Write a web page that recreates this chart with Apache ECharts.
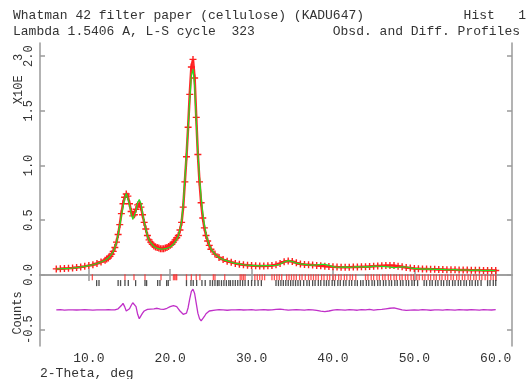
<!DOCTYPE html>
<html>
<head>
<meta charset="utf-8">
<script src="https://cdn.jsdelivr.net/npm/echarts@6/dist/echarts.min.js"></script>
<style>
  html, body { margin: 0; padding: 0; background: #fff; }
  #chart { width: 528px; height: 379px; }
</style>
</head>
<body>
<div id="chart"></div>
<script>
// 2-theta grid (deg)
var twoTheta = [
    6, 6.5, 7, 7.5, 8, 8.5, 9, 9.5, 10, 10.5, 11, 11.5, 12,
    12.2, 12.4, 12.6, 12.8, 13, 13.2, 13.4, 13.6, 13.8, 14,
    14.2, 14.4, 14.6, 14.8, 15, 15.2, 15.4, 15.6, 15.8, 16,
    16.2, 16.4, 16.6, 16.8, 17, 17.2, 17.4, 17.6, 17.8, 18,
    18.2, 18.4, 18.6, 18.8, 19, 19.2, 19.4, 19.6, 19.8, 20,
    20.2, 20.4, 20.6, 20.8, 21, 21.2, 21.4, 21.6, 21.8, 22,
    22.2, 22.4, 22.6, 22.8, 23, 23.2, 23.4, 23.6, 23.8, 24,
    24.2, 24.4, 24.6, 24.8, 25,
    25.5, 26, 26.5, 27, 27.5, 28, 28.5, 29, 29.5, 30,
    30.5, 31, 31.5, 32, 32.5, 33, 33.5, 34, 34.5, 35,
    35.5, 36, 36.5, 37, 37.5, 38, 38.5, 39, 39.5, 40,
    40.5, 41, 41.5, 42, 42.5, 43, 43.5, 44, 44.5, 45,
    45.5, 46, 46.5, 47, 47.5, 48, 48.5, 49, 49.5, 50,
    50.5, 51, 51.5, 52, 52.5, 53, 53.5, 54, 54.5, 55,
    55.5, 56, 56.5, 57, 57.5, 58, 58.5, 59, 59.5, 60
];

// observed counts (x10^3)
var observed = [
    0.055, 0.056, 0.058, 0.06, 0.063, 0.067, 0.072, 0.078, 0.085, 0.093, 0.104, 0.118, 0.135,
    0.145, 0.155, 0.17, 0.19, 0.215, 0.25, 0.30, 0.37, 0.46, 0.56,
    0.65, 0.71, 0.74, 0.72, 0.65, 0.58, 0.54, 0.55, 0.60, 0.64,
    0.65, 0.62, 0.55, 0.48, 0.42, 0.36, 0.32, 0.30, 0.28, 0.265,
    0.255, 0.25, 0.245, 0.24, 0.24, 0.24, 0.245, 0.25, 0.26, 0.27,
    0.28, 0.30, 0.32, 0.34, 0.36, 0.41, 0.48, 0.62, 0.85, 1.08,
    1.35, 1.65, 1.90, 1.97, 1.80, 1.44, 1.10, 0.85, 0.66, 0.52,
    0.43, 0.36, 0.31, 0.27, 0.235,
    0.19, 0.16, 0.14, 0.125, 0.115, 0.105, 0.098, 0.092, 0.088, 0.085,
    0.083, 0.082, 0.082, 0.083, 0.086, 0.092, 0.105, 0.12, 0.128, 0.122,
    0.11, 0.1, 0.095, 0.093, 0.09, 0.087, 0.084, 0.08, 0.077, 0.074,
    0.072, 0.071, 0.071, 0.071, 0.072, 0.073, 0.074, 0.075, 0.077, 0.079,
    0.081, 0.083, 0.085, 0.086, 0.085, 0.08, 0.074, 0.067, 0.062, 0.058,
    0.056, 0.054, 0.053, 0.052, 0.051, 0.05, 0.049, 0.048, 0.047, 0.046,
    0.045, 0.045, 0.044, 0.043, 0.043, 0.042, 0.041, 0.041, 0.04, 0.04
];

// calculated profile
var calculated = [
    0.054, 0.056, 0.058, 0.06, 0.063, 0.067, 0.072, 0.078, 0.085, 0.093, 0.104, 0.118, 0.134,
    0.145, 0.154, 0.171, 0.19, 0.213, 0.25, 0.297, 0.365, 0.45, 0.54,
    0.62, 0.695, 0.745, 0.728, 0.645, 0.56, 0.508, 0.515, 0.585, 0.66,
    0.69, 0.655, 0.565, 0.485, 0.42, 0.358, 0.319, 0.296, 0.278, 0.26,
    0.249, 0.243, 0.24, 0.236, 0.235, 0.238, 0.24, 0.243, 0.25, 0.255,
    0.263, 0.28, 0.298, 0.325, 0.355, 0.415, 0.493, 0.64, 0.873, 1.095,
    1.34, 1.60, 1.82, 1.88, 1.73, 1.41, 1.115, 0.89, 0.71, 0.565,
    0.46, 0.378, 0.32, 0.275, 0.238,
    0.19, 0.158, 0.14, 0.128, 0.116, 0.105, 0.101, 0.093, 0.088, 0.087,
    0.085, 0.082, 0.084, 0.084, 0.086, 0.087, 0.097, 0.118, 0.13, 0.122,
    0.108, 0.1, 0.097, 0.091, 0.09, 0.092, 0.096, 0.096, 0.087, 0.076,
    0.07, 0.071, 0.073, 0.069, 0.072, 0.076, 0.072, 0.075, 0.073, 0.081,
    0.079, 0.078, 0.075, 0.071, 0.067, 0.07, 0.074, 0.072, 0.064, 0.058,
    0.058, 0.052, 0.053, 0.055, 0.05, 0.05, 0.051, 0.046, 0.047, 0.048,
    0.043, 0.045, 0.045, 0.041, 0.043, 0.044, 0.039, 0.041, 0.041, 0.038
];

// difference curve (obs - calc), plotted offset below zero
var difference = [
    -0.32, -0.318, -0.322, -0.32, -0.319, -0.321, -0.32, -0.318, -0.32, -0.322, -0.32, -0.319, -0.32,
    -0.32, -0.318, -0.322, -0.32, -0.316, -0.32, -0.315, -0.31, -0.30, -0.28,
    -0.26, -0.29, -0.33, -0.335, -0.31, -0.28, -0.255, -0.25, -0.29, -0.36,
    -0.40, -0.39, -0.35, -0.33, -0.32, -0.315, -0.318, -0.312, -0.315, -0.31,
    -0.308, -0.305, -0.31, -0.312, -0.31, -0.315, -0.31, -0.305, -0.30, -0.29,
    -0.285, -0.28, -0.275, -0.29, -0.31, -0.33, -0.345, -0.36, -0.365, -0.35,
    -0.30, -0.22, -0.15, -0.13, -0.17, -0.26, -0.35, -0.40, -0.42, -0.41,
    -0.38, -0.355, -0.34, -0.33, -0.325,
    -0.322, -0.318, -0.32, -0.323, -0.319, -0.32, -0.317, -0.321, -0.32, -0.318,
    -0.322, -0.32, -0.318, -0.321, -0.32, -0.315, -0.312, -0.318, -0.322, -0.32,
    -0.318, -0.32, -0.322, -0.318, -0.32, -0.325, -0.332, -0.336, -0.33, -0.322,
    -0.318, -0.32, -0.322, -0.318, -0.32, -0.323, -0.318, -0.32, -0.316, -0.322,
    -0.318, -0.315, -0.31, -0.305, -0.302, -0.31, -0.32, -0.325, -0.322, -0.32,
    -0.322, -0.318, -0.32, -0.323, -0.319, -0.32, -0.322, -0.318, -0.32, -0.322,
    -0.318, -0.32, -0.321, -0.318, -0.32, -0.322, -0.318, -0.32, -0.321, -0.318
];

// reflection positions, phase 1 (red) and phase 2 (black)
var reflRed = [
    10.43, 14.44, 15.55, 16.9, 18.87, 20.4, 20.55, 20.7, 20.8, 22.0, 22.6, 23.2, 23.65,
    25.3, 25.5, 26.7, 28.6, 28.8, 29.0, 29.2, 30.4, 30.7, 31.0, 31.3, 31.6,
    32.5, 32.8, 33.1, 33.4, 33.7, 34.3, 34.6, 34.9, 35.2, 35.5, 35.9, 36.2, 36.6,
    37.0, 37.3, 37.6, 37.9, 38.2, 38.6, 38.9, 39.3, 39.6, 40.0, 40.3, 40.7, 41.0,
    41.4, 41.7, 42.1, 42.4, 42.8, 44.0, 44.3, 44.7, 45.0, 45.4, 45.7, 46.1, 46.4,
    46.8, 47.1, 47.5, 47.8, 48.2, 48.5, 48.9, 49.2, 49.6, 49.9, 50.3, 50.6, 51.0,
    51.3, 51.7, 52.0, 52.4, 52.7, 53.1, 53.4, 53.8, 54.1, 54.5, 54.8, 55.2, 55.5,
    55.9, 56.2, 56.6, 56.9, 57.3, 57.6, 58.0, 58.3, 58.7, 59.0, 59.4, 59.7, 60.0
];
var reflBlack = [
    10.96, 11.25, 13.6, 13.9, 14.44, 14.85, 15.75, 16.9, 17.1, 18.46, 18.74, 19.56, 19.76,
    22.0, 22.55, 22.83, 23.25, 23.9, 24.3, 24.9, 25.2, 25.5, 25.8, 26.0, 26.3, 26.6,
    26.9, 27.2, 27.4, 27.7, 28.0, 28.3, 28.6, 28.9, 29.2, 29.6, 30.0, 30.4, 30.8, 31.2,
    33.0, 33.3, 33.6, 33.9, 34.2, 34.5, 34.8, 35.1, 35.4, 35.7, 36.0, 36.4, 36.8,
    37.1, 37.5, 37.8, 38.2, 38.5, 38.9, 39.2, 39.5, 39.9, 40.2, 40.6, 40.9, 41.3,
    41.6, 42.0, 42.3, 42.7, 43.0, 43.4, 43.7, 44.1, 44.4, 44.8, 45.1, 45.5, 45.8,
    46.2, 46.5, 46.9, 47.2, 47.6, 47.9, 48.3, 48.6, 49.0, 49.3, 49.7, 50.0, 50.4,
    51.2, 51.5, 51.9, 52.2, 52.6, 52.9, 53.3, 53.6, 54.0, 54.3, 54.7, 55.0, 55.4,
    55.7, 56.1, 56.4, 56.8, 57.1, 57.5, 57.8, 58.2, 59.0, 59.3, 59.7, 60.0
];

var xTicks = [10, 20, 30, 40, 50, 60];
var yTicks = [-0.5, 0, 0.5, 1, 1.5, 2];

var MONO = '"Liberation Mono", "Courier New", monospace';
var axisColor = '#9a9a9a';

function pairs(xv, yv) {
    return xv.map(function (x, i) { return [x, yv[i]]; });
}
function rowAt(xv, y) {
    return xv.map(function (x) { return [x, y]; });
}

var myChart = echarts.init(document.getElementById('chart'), null, { renderer: 'canvas' });

var axisLine = { show: true, lineStyle: { color: axisColor, width: 1.5 } };

var option = {
    backgroundColor: '#ffffff',
    animation: false,
    grid: { left: 40, right: 16, top: 43, bottom: 33 },
    xAxis: [{
        type: 'value', min: 4, max: 62, position: 'bottom',
        axisLine: axisLine,
        axisTick: { inside: true, length: 6, customValues: xTicks, lineStyle: { color: axisColor, width: 1.5 } },
        axisLabel: {
            customValues: xTicks, margin: 6, color: '#333',
            fontFamily: MONO, fontSize: 13,
            formatter: function (v) { return v.toFixed(1); }
        },
        splitLine: { show: false }
    }, {
        type: 'value', min: 4, max: 62, position: 'top',
        axisLine: axisLine,
        axisTick: { inside: true, length: 6, customValues: xTicks, lineStyle: { color: axisColor, width: 1.5 } },
        axisLabel: { show: false },
        splitLine: { show: false }
    }],
    yAxis: [{
        type: 'value', min: -0.65, max: 2.12, position: 'left',
        axisLine: axisLine,
        axisTick: { inside: true, length: 5, customValues: yTicks, lineStyle: { color: axisColor, width: 1.5 } },
        axisLabel: {
            customValues: yTicks, rotate: 90, margin: 5, color: '#333',
            fontFamily: MONO, fontSize: 12,
            formatter: function (v) { return v.toFixed(1); }
        },
        splitLine: { show: false }
    }, {
        type: 'value', min: -0.65, max: 2.12, position: 'right',
        axisLine: axisLine,
        axisTick: { inside: true, length: 5, customValues: yTicks, lineStyle: { color: axisColor, width: 1.5 } },
        axisLabel: { show: false },
        splitLine: { show: false }
    }],
    graphic: [
        { type: 'text', x: 13, y: 16, style: { text: 'Whatman 42 filter paper (cellulose) (KADU647)', font: '13px ' + MONO, fill: '#333', verticalAlign: 'middle' } },
        { type: 'text', x: 526, y: 16, style: { text: 'Hist   1', font: '13px ' + MONO, fill: '#333', align: 'right', verticalAlign: 'middle' } },
        { type: 'text', x: 13, y: 32, style: { text: 'Lambda 1.5406 A, L-S cycle  323', font: '13px ' + MONO, fill: '#333', verticalAlign: 'middle' } },
        { type: 'text', x: 520, y: 32, style: { text: 'Obsd. and Diff. Profiles', font: '13px ' + MONO, fill: '#333', align: 'right', verticalAlign: 'middle' } },
        { type: 'text', x: 19, y: 79, rotation: Math.PI / 2, style: { text: 'X10E  3', font: '12px ' + MONO, fill: '#333', align: 'center', verticalAlign: 'middle' } },
        { type: 'text', x: 18, y: 313, rotation: Math.PI / 2, style: { text: 'Counts', font: '12px ' + MONO, fill: '#333', align: 'center', verticalAlign: 'middle' } },
        { type: 'text', x: 40, y: 374, style: { text: '2-Theta, deg', font: '13px ' + MONO, fill: '#333', verticalAlign: 'middle' } }
    ],
    series: [{
        name: 'Obsd',
        type: 'line',
        data: pairs(twoTheta, observed),
        symbol: 'path://M4,0H6V4H10V6H6V10H4V6H0V4H4Z',
        symbolSize: 7,
        showSymbol: true,
        itemStyle: { color: '#ff1e1e' },
        lineStyle: { color: '#ff2a2a', width: 2.5 },
        z: 2
    }, {
        name: 'Calc',
        type: 'line',
        data: pairs(twoTheta, calculated),
        showSymbol: false,
        lineStyle: { color: '#22e022', width: 1.2 },
        z: 3
    }, {
        name: 'Diff',
        type: 'line',
        data: pairs(twoTheta, difference),
        showSymbol: false,
        lineStyle: { color: '#c030c8', width: 1.3 },
        z: 3
    }, {
        name: 'Phase 1',
        type: 'scatter',
        data: rowAt(reflRed, -0.022),
        symbol: 'rect',
        symbolSize: [1.3, 6],
        itemStyle: { color: '#ff2a2a' },
        z: 2
    }, {
        name: 'Phase 2',
        type: 'scatter',
        data: rowAt(reflBlack, -0.075),
        symbol: 'rect',
        symbolSize: [1.3, 6],
        itemStyle: { color: '#222' },
        z: 2
    }]
};

myChart.setOption(option);
</script>
</body>
</html>
